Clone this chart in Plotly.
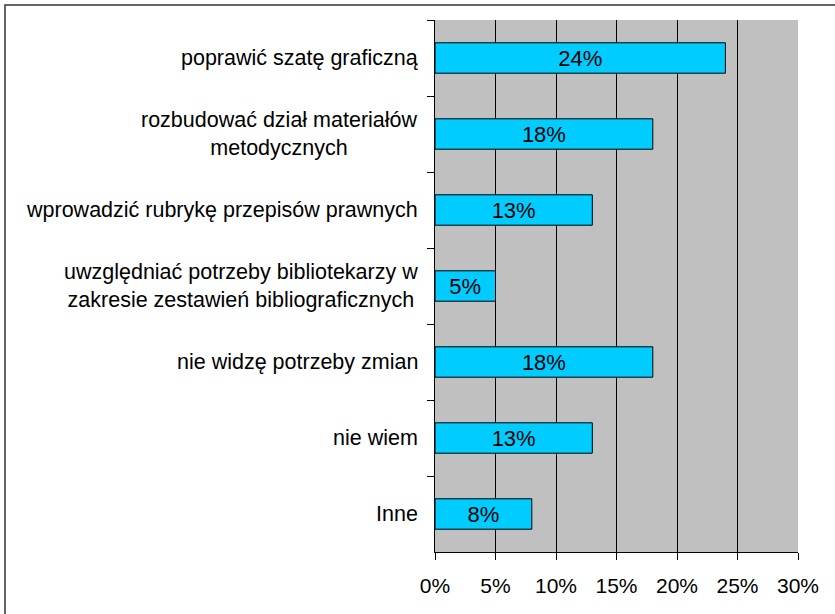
import plotly.graph_objects as go

categories = [
    "poprawić szatę graficzną",
    "rozbudować dział materiałów<br>metodycznych",
    "wprowadzić rubrykę przepisów prawnych",
    "uwzględniać potrzeby bibliotekarzy w<br>zakresie zestawień bibliograficznych",
    "nie widzę potrzeby zmian",
    "nie wiem",
    "Inne",
]
values = [24, 18, 13, 5, 18, 13, 8]
x_ticks = [0, 5, 10, 15, 20, 25, 30]
x_tick_labels = ["0%", "5%", "10%", "15%", "20%", "25%", "30%"]

FONT = "Liberation Sans, Arial, sans-serif"

fig = go.Figure()
fig.add_trace(go.Bar(
    y=categories,
    x=values,
    orientation="h",
    marker=dict(color="#00ccff", line=dict(color="#000000", width=1)),
    text=[f"{v}%" for v in values],
    textposition="inside",
    insidetextanchor="middle",
    constraintext="none",
    textfont=dict(family=FONT, size=22, color="#000000"),
    hoverinfo="skip",
))

annotations = []
for c in categories:
    annotations.append(dict(
        x=0, xref="paper", y=c, yref="y",
        text=c, showarrow=False, xanchor="right", yanchor="middle",
        align="center", xshift=-15,
        font=dict(family=FONT, size=21.5, color="#000000"),
    ))

fig.update_layout(
    width=835, height=614,
    margin=dict(l=435, r=37, t=20, b=62),
    paper_bgcolor="#ffffff",
    plot_bgcolor="#c0c0c0",
    showlegend=False,
    bargap=0.6,
    annotations=annotations,
    xaxis=dict(
        range=[0, 30], tickmode="array", tickvals=x_ticks, ticktext=x_tick_labels,
        showgrid=False,
        minor=dict(tickvals=x_ticks[1:-1], showgrid=True, gridcolor="#000000",
                   gridwidth=1, ticks=""),
        showline=True, linecolor="#000000", linewidth=1,
        ticks="outside", ticklen=7, tickcolor="#000000",
        ticklabelstandoff=8,
        tickfont=dict(family=FONT, size=21, color="#000000"),
        zeroline=False, fixedrange=True,
    ),
    yaxis=dict(
        autorange="reversed",
        showticklabels=False,
        tickson="boundaries",
        ticks="outside", ticklen=7, tickcolor="#000000",
        showline=True, linecolor="#000000", linewidth=1,
        showgrid=False, zeroline=False, fixedrange=True,
    ),
    shapes=[dict(
        type="rect", xref="paper", yref="paper",
        x0=(5 - 435) / 363, x1=1.5, y0=-0.5, y1=(552 - 5) / 532,
        line=dict(color="#333333", width=1.5), fillcolor="rgba(0,0,0,0)",
        layer="above",
    )],
)

fig.write_html("out.html", post_script="document.body.style.margin='0';",
               config={"displayModeBar": False})
